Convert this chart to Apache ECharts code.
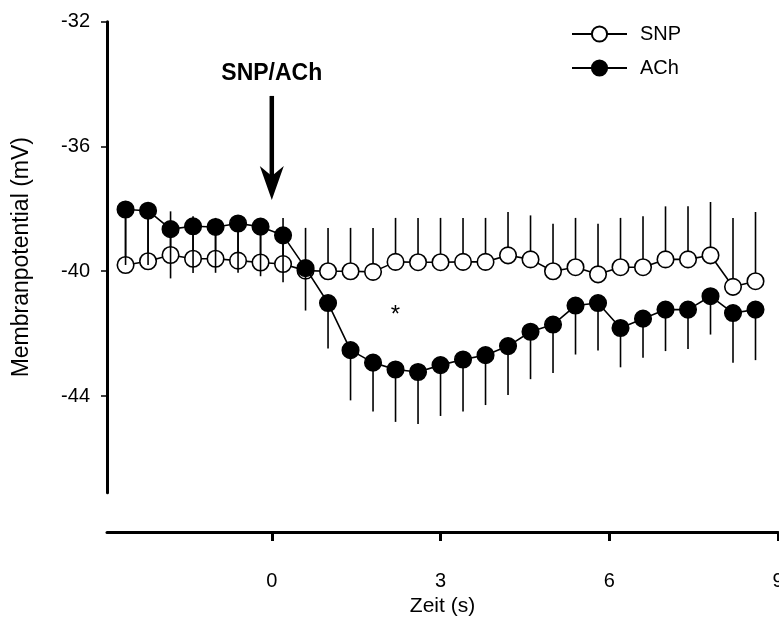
<!DOCTYPE html>
<html>
<head>
<meta charset="utf-8">
<script src="https://cdn.jsdelivr.net/npm/echarts@6/dist/echarts.min.js"></script>
<style>html,body{margin:0;padding:0;background:#fff;}#c{width:779px;height:617px;}</style>
</head>
<body>
<div id="c"></div>
<script>
const times = [-2.6,-2.2,-1.8,-1.4,-1.0,-0.6,-0.2,0.2,0.6,1.0,1.4,1.8,2.2,2.6,3.0,3.4,3.8,4.2,4.6,5.0,5.4,5.8,6.2,6.6,7.0,7.4,7.8,8.2,8.6];
const snpMean = [-39.80,-39.68,-39.48,-39.60,-39.60,-39.66,-39.72,-39.77,-39.98,-40.00,-40.00,-40.02,-39.70,-39.71,-39.71,-39.70,-39.70,-39.49,-39.62,-40.00,-39.87,-40.10,-39.87,-39.87,-39.62,-39.62,-39.49,-40.50,-40.32];
const snpUpper = [-38.30,-38.30,-38.08,-38.24,-38.29,-38.40,-38.40,-38.29,-38.61,-38.61,-38.61,-38.61,-38.29,-38.29,-38.29,-38.29,-38.29,-38.10,-38.21,-38.48,-38.29,-38.48,-38.29,-38.24,-37.92,-37.92,-37.78,-38.29,-38.10];
const achMean = [-38.02,-38.06,-38.65,-38.56,-38.58,-38.47,-38.57,-38.85,-39.90,-41.02,-42.53,-42.93,-43.15,-43.23,-43.01,-42.83,-42.69,-42.40,-41.94,-41.71,-41.10,-41.02,-41.82,-41.52,-41.23,-41.23,-40.80,-41.34,-41.23];
const achLower = [-39.80,-39.80,-40.23,-40.06,-40.05,-40.05,-40.16,-40.35,-41.26,-42.48,-44.14,-44.50,-44.83,-44.90,-44.64,-44.50,-44.29,-43.97,-43.46,-43.26,-42.67,-42.54,-43.08,-42.77,-42.56,-42.49,-42.03,-42.93,-42.85];
const xTicks = [0, 3, 6, 9];
const yTicks = [-44, -40, -36, -32];
const arrowX = 0, arrowTop = -34.38, arrowTip = -37.72;
const titleText = 'SNP/ACh', titleY = -33.65;
const starX = 2.2, starY = -41.42;

const FONT = '"Liberation Sans", Arial, sans-serif';
const chart = echarts.init(document.getElementById('c'), null, {renderer: 'canvas'});

function errRender(params, api) {
  const x = api.value(0);
  const p1 = api.coord([x, api.value(1)]);
  const p2 = api.coord([x, api.value(2)]);
  return {type: 'line', shape: {x1: p1[0], y1: p1[1], x2: p2[0], y2: p2[1]},
          style: {stroke: '#000', lineWidth: 1.6}};
}

const option = {
  animation: false,
  backgroundColor: '#fff',
  grid: {left: 107, right: 1, top: 21.7, bottom: 124.3, containLabel: false, outerBoundsMode: 'none'},
  legend: {
    data: ['SNP', 'ACh'], orient: 'vertical', left: 571, top: 24,
    itemWidth: 55, itemHeight: 19, itemGap: 14, padding: 0,
    textStyle: {fontFamily: FONT, fontSize: 20, color: '#000', padding: [0,0,0,8], lineHeight: 19}
  },
  xAxis: {
    type: 'value', min: -2.93, max: 9, position: 'bottom', offset: 39.3,
    name: 'Zeit (s)', nameLocation: 'middle', nameGap: 63,
    nameTextStyle: {fontFamily: FONT, fontSize: 21, color: '#000'},
    axisLine: {onZero: false, lineStyle: {color: '#000', width: 3}},
    axisTick: {show: true, length: 9, customValues: xTicks, lineStyle: {color: '#000', width: 3}},
    axisLabel: {customValues: xTicks, margin: 39, fontFamily: FONT, fontSize: 20, color: '#000'},
    splitLine: {show: false}
  },
  yAxis: {
    type: 'value', min: -47.1, max: -32,
    name: 'Membranpotential (mV)', nameLocation: 'middle', nameGap: 74, nameRotate: 90,
    nameTextStyle: {fontFamily: FONT, fontSize: 23, color: '#000'},
    axisLine: {onZero: false, lineStyle: {color: '#000', width: 3}},
    axisTick: {show: true, length: 6, customValues: yTicks, lineStyle: {color: '#000', width: 1.5}},
    axisLabel: {customValues: yTicks, margin: 17, fontFamily: FONT, fontSize: 20, color: '#000'},
    splitLine: {show: false}
  },
  series: [
    {type: 'custom', name: 'snpErr', z: 1, renderItem: errRender,
     data: times.map((t, i) => [t, snpMean[i], snpUpper[i]])},
    {type: 'line', name: 'SNP', z: 2, data: times.map((t, i) => [t, snpMean[i]]),
     symbol: 'circle', symbolSize: 16.5, showAllSymbol: true,
     itemStyle: {color: '#fff', borderColor: '#000', borderWidth: 1.6},
     lineStyle: {color: '#000', width: 1.6}},
    {type: 'custom', name: 'achErr', z: 3, renderItem: errRender,
     data: times.map((t, i) => [t, achMean[i], achLower[i]])},
    {type: 'line', name: 'ACh', z: 4, data: times.map((t, i) => [t, achMean[i]]),
     symbol: 'circle', symbolSize: 16.5, showAllSymbol: true,
     itemStyle: {color: '#000', borderColor: '#000', borderWidth: 1.6},
     lineStyle: {color: '#000', width: 1.6}}
  ]
};
chart.setOption(option);

const pTop = chart.convertToPixel({gridIndex: 0}, [arrowX, arrowTop]);
const pTip = chart.convertToPixel({gridIndex: 0}, [arrowX, arrowTip]);
const pTitle = chart.convertToPixel({gridIndex: 0}, [arrowX, titleY]);
const pStar = chart.convertToPixel({gridIndex: 0}, [starX, starY]);
const headH = 34, headW = 12;
chart.setOption({
  graphic: [
    {type: 'line', shape: {x1: pTop[0], y1: pTop[1], x2: pTip[0], y2: pTip[1] - 20},
     style: {stroke: '#000', lineWidth: 4.5}, z: 10},
    {type: 'polygon', shape: {points: [[pTip[0], pTip[1]], [pTip[0] - headW, pTip[1] - headH],
       [pTip[0], pTip[1] - headH + 10], [pTip[0] + headW, pTip[1] - headH]]},
     style: {fill: '#000'}, z: 10},
    {type: 'text', x: pTitle[0], y: pTitle[1],
     style: {text: titleText, font: 'bold 23px ' + FONT, fill: '#000', align: 'center', verticalAlign: 'middle'}, z: 10},
    {type: 'text', x: pStar[0], y: pStar[1],
     style: {text: '*', font: '24px ' + FONT, fill: '#000', align: 'center', verticalAlign: 'middle'}, z: 10}
  ]
});
</script>
</body>
</html>
